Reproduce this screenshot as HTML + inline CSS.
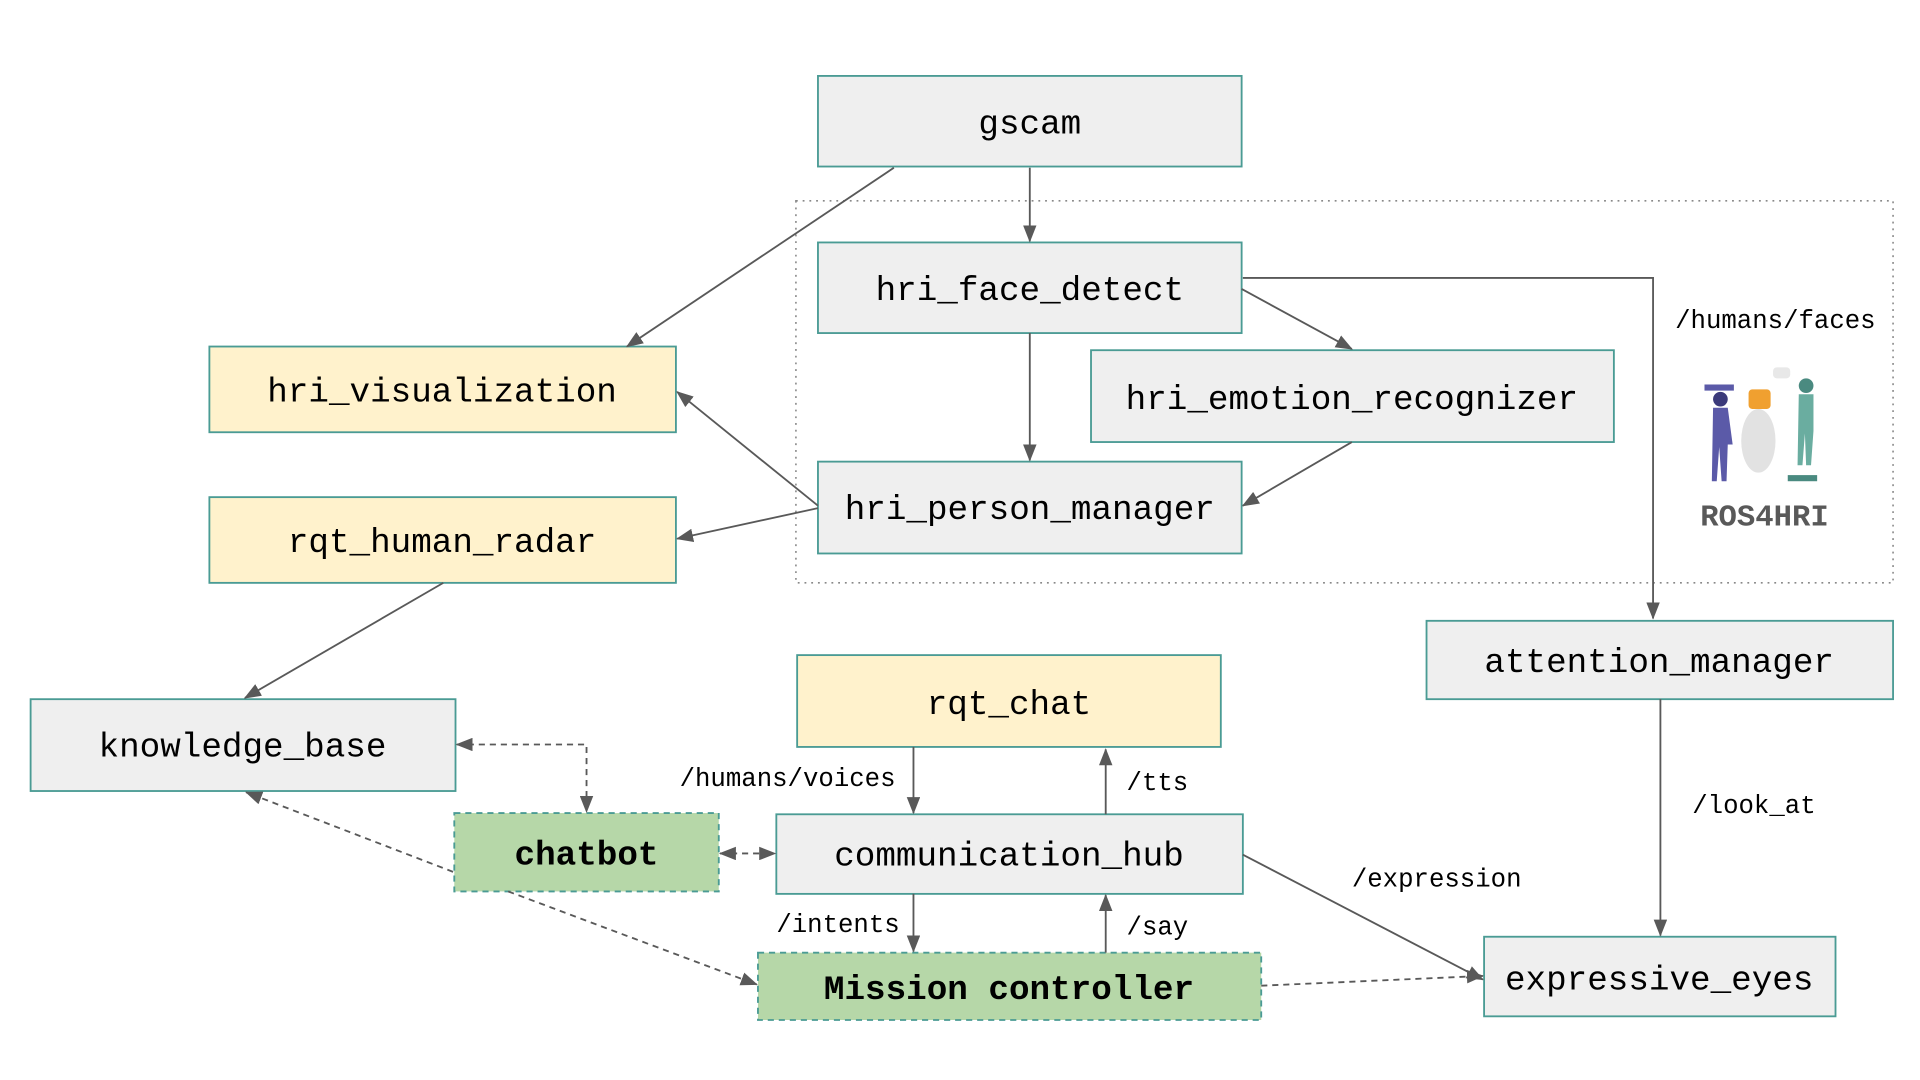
<!DOCTYPE html>
<html><head><meta charset="utf-8"><style>
html,body{margin:0;padding:0;background:#fff;}
svg{display:block;}
text{font-family:"Liberation Mono",monospace;}
</style></head><body>
<svg width="1920" height="1080" viewBox="0 0 1568 882" preserveAspectRatio="none" xmlns="http://www.w3.org/2000/svg">
<defs>
<marker id="a" markerWidth="14" markerHeight="11" refX="13" refY="5.5" orient="auto" markerUnits="userSpaceOnUse"><path d="M0,0 L14,5.5 L0,11 z" fill="#595959"/></marker>
<marker id="s" markerWidth="14" markerHeight="11" refX="1" refY="5.5" orient="auto" markerUnits="userSpaceOnUse"><path d="M14,0 L0,5.5 L14,11 z" fill="#595959"/></marker>
</defs>
<rect x="650" y="164" width="896" height="312" fill="none" stroke="#888" stroke-width="1.3" stroke-dasharray="1.5,4"/>
<g stroke="#4a9b94" stroke-width="1.5">
<rect x="668" y="62" width="346" height="74" fill="#efefef"/>
<rect x="668" y="198" width="346" height="74" fill="#efefef"/>
<rect x="891" y="286" width="427" height="75" fill="#efefef"/>
<rect x="668" y="377" width="346" height="75" fill="#efefef"/>
<rect x="171" y="283" width="381" height="70" fill="#fff2cc"/>
<rect x="171" y="406" width="381" height="70" fill="#fff2cc"/>
<rect x="1165" y="507" width="381" height="64" fill="#efefef"/>
<rect x="25" y="571" width="347" height="75" fill="#efefef"/>
<rect x="651" y="535" width="346" height="75" fill="#fff2cc"/>
<rect x="634" y="665" width="381" height="65" fill="#efefef"/>
<rect x="1212" y="765" width="287" height="65" fill="#efefef"/>
<rect x="371" y="664" width="216" height="64" fill="#b6d7a8" stroke-dasharray="5,4"/>
<rect x="619" y="778" width="411" height="55" fill="#b6d7a8" stroke-dasharray="5,4"/>
</g>
<g font-size="28" text-anchor="middle" fill="#000">
<text x="841" y="109">gscam</text>
<text x="841" y="245">hri_face_detect</text>
<text x="1104" y="334">hri_emotion_recognizer</text>
<text x="841" y="424">hri_person_manager</text>
<text x="361" y="328">hri_visualization</text>
<text x="361" y="451">rqt_human_radar</text>
<text x="1355" y="549">attention_manager</text>
<text x="198" y="618">knowledge_base</text>
<text x="824" y="583">rqt_chat</text>
<text x="824" y="707">communication_hub</text>
<text x="1355" y="808">expressive_eyes</text>
<text x="479" y="706" font-weight="bold">chatbot</text>
<text x="824" y="816" font-weight="bold">Mission controller</text>
</g>
<g font-size="21" fill="#000">
<text x="555" y="642">/humans/voices</text>
<text x="920" y="645">/tts</text>
<text x="634" y="761">/intents</text>
<text x="920" y="763">/say</text>
<text x="1104" y="724">/expression</text>
<text x="1382" y="664">/look_at</text>
<text x="1368" y="268">/humans/faces</text>
</g>
<text x="1441" y="429" font-size="25" font-weight="bold" fill="#595959" text-anchor="middle">ROS4HRI</text>
<g>
<ellipse cx="1436" cy="360" rx="14" ry="26" fill="#e2e2e2"/>
<rect x="1428" y="318" width="18" height="16" rx="3" fill="#f0a030"/>
<circle cx="1405" cy="326" r="6" fill="#3b3a7a"/>
<path d="M1399,333 h12 l4,30 h-4 l-1,30 h-4 l-2,-28 l-2,28 h-4 z" fill="#5b5aa8"/>
<circle cx="1475" cy="315" r="6" fill="#4a8a80"/>
<path d="M1469,322 h12 v30 l-2,28 h-4 l-1,-26 l-2,26 h-4 z" fill="#6aada0"/>
<rect x="1392" y="314" width="24" height="5" fill="#5b5aa8"/>
<rect x="1460" y="388" width="24" height="5" fill="#4a8a80"/>
<rect x="1448" y="300" width="14" height="9" rx="3" fill="#e8e8e8"/>
</g>
<g stroke="#595959" stroke-width="1.5" fill="none">
<line x1="730" y1="137" x2="512" y2="283" marker-end="url(#a)"/>
<line x1="841" y1="137" x2="841" y2="197" marker-end="url(#a)"/>
<line x1="841" y1="272" x2="841" y2="376" marker-end="url(#a)"/>
<line x1="1014" y1="236" x2="1104" y2="285" marker-end="url(#a)"/>
<polyline points="1015,227 1350,227 1350,505" marker-end="url(#a)"/>
<line x1="1104" y1="361" x2="1015" y2="413" marker-end="url(#a)"/>
<line x1="668" y1="413" x2="553" y2="320" marker-end="url(#a)"/>
<line x1="668" y1="415" x2="553" y2="440" marker-end="url(#a)"/>
<line x1="362" y1="476" x2="200" y2="570" marker-end="url(#a)"/>
<line x1="746" y1="610" x2="746" y2="664" marker-end="url(#a)"/>
<line x1="903" y1="665" x2="903" y2="612" marker-end="url(#a)"/>
<line x1="746" y1="730" x2="746" y2="777" marker-end="url(#a)"/>
<line x1="903" y1="778" x2="903" y2="731" marker-end="url(#a)"/>
<line x1="1015" y1="698" x2="1211" y2="800" marker-end="url(#a)"/>
<line x1="1356" y1="571" x2="1356" y2="764" marker-end="url(#a)"/>
<g stroke-dasharray="5,4">
<polyline points="373,608 479,608 479,663" marker-start="url(#s)" marker-end="url(#a)"/>
<line x1="370" y1="712" x2="201" y2="647" marker-end="url(#a)"/>
<line x1="415" y1="728" x2="618" y2="804" marker-end="url(#a)"/>
<line x1="588" y1="697" x2="633" y2="697" marker-start="url(#s)" marker-end="url(#a)"/>
<line x1="1030" y1="805" x2="1211" y2="797" marker-end="url(#a)"/>
</g>
</g>
</svg>
</body></html>
